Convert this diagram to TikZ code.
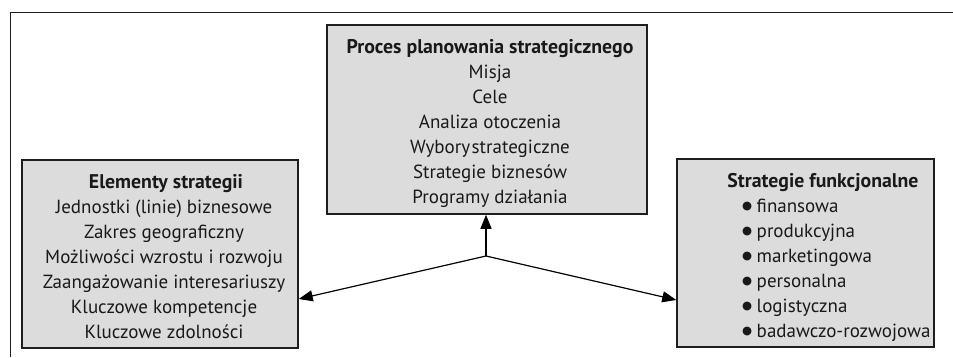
\documentclass[tikz,border=0pt]{standalone}
\usepackage{fontspec}
\setmainfont{PT Sans}
\newfontfamily\djv{DejaVu Sans}
\usetikzlibrary{arrows.meta}
\definecolor{boxfill}{HTML}{DCDCDC}
\definecolor{lineclr}{HTML}{1E1E1E}
\newcommand{\bul}{\raisebox{2.6pt}{\djv\fontsize{11.5}{11.5}\selectfont ●}\hspace{4.5pt}}
\tikzset{
  box/.style={draw=lineclr, line width=1.5pt, fill=boxfill, rectangle, inner sep=0pt},
  txt/.style={inner sep=0pt, anchor=base, font=\fontsize{19}{20}\selectfont, text=black!90},
  ttl/.style={txt, font=\fontsize{19.8}{20}\selectfont\bfseries},
  lft/.style={txt, anchor=base west},
  conn/.style={draw=black, line width=1.2pt, -{Triangle[length=14pt,width=11pt]}},
}
\begin{document}
\begin{tikzpicture}[x=1pt,y=-1pt]
\useasboundingbox (0,0) rectangle (953,357);
% outer frame (open to the right and bottom)
\draw[lineclr, line width=1pt] (10,357) -- (10,12) -- (953,12);
% boxes
\node[box, minimum width=320pt, minimum height=189pt] (proc) at (487,119.5) {};
\node[box, minimum width=276pt, minimum height=188pt] (elem) at (160,254) {};
\node[box, minimum width=257pt, minimum height=188pt] (func) at (805.5,253) {};
% top box text
\node[ttl] (p0) at (490,53) {Proces planowania strategicznego};
\node[txt] (p1) at (490,78) {Misja};
\node[txt] (p2) at (490,103) {Cele};
\node[txt] (p3) at (490,128) {Analiza otoczenia};
\node[txt] (p4) at (490,153) {Wybory\hspace{1.5pt}strategiczne};
\node[txt] (p5) at (490,178) {Strategie biznesów};
\node[txt] (p6) at (490,203) {Programy działania};
% left box text
\node[ttl] (e0) at (166,188) {Elementy strategii};
\node[txt] (e1) at (164,213) {Jednostki (linie) biznesowe};
\node[txt] (e2) at (164,238) {Zakres geograficzny};
\node[txt] (e3) at (164,263) {Możliwości wzrostu i rozwoju};
\node[txt] (e4) at (164,288) {Zaangażowanie interesariuszy};
\node[txt] (e5) at (164,313) {Kluczowe kompetencje};
\node[txt] (e6) at (164,338) {Kluczowe zdolności};
% right box text
\node[ttl] (f0) at (823,187) {Strategie funkcjonalne};
\node[lft] (f1) at (742,212) {\bul finansowa};
\node[lft] (f2) at (742,237) {\bul produkcyjna};
\node[lft] (f3) at (742,262) {\bul marketingowa};
\node[lft] (f4) at (742,287) {\bul personalna};
\node[lft] (f5) at (742,312) {\bul logistyczna};
\node[lft] (f6) at (742,337) {\bul badawczo-rozwojowa};
% connectors
\coordinate (j) at (486,256);
\draw[conn] (j) -- (j |- proc.south);
\draw[conn] (j) -- ([yshift=-45pt]elem.east);
\draw[conn] (j) -- ([yshift=-47pt]func.west);
\end{tikzpicture}
\end{document}
